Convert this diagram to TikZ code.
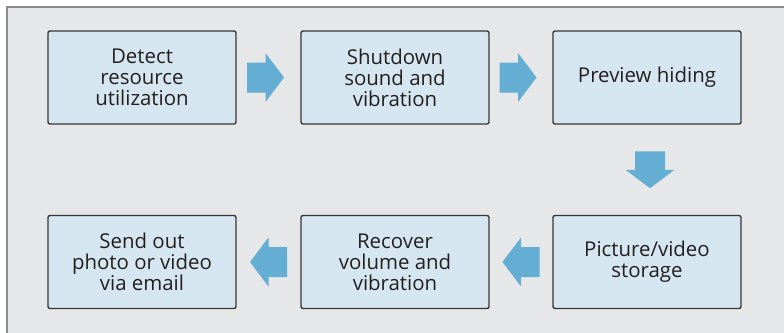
\documentclass[tikz,border=0pt]{standalone}
\usepackage{fontspec}
\setmainfont{Open Sans}
\usetikzlibrary{calc}
\definecolor{framebg}{HTML}{E6E7E8}
\definecolor{frameline}{HTML}{8C8C8C}
\definecolor{boxfill}{HTML}{D6E6F0}
\definecolor{boxline}{HTML}{363636}
\definecolor{arrowc}{HTML}{64AED3}
\definecolor{textc}{HTML}{231F20}
\tikzset{
  stepbox/.style={draw=boxline, line width=1.4bp, fill=boxfill, rounded corners=2bp,
    minimum width=188bp, minimum height=93bp, inner sep=0pt, align=center,
    text=textc, font=\fontsize{20.5}{21}\selectfont},
  pics/blockarrow/.style={code={
    \fill[arrowc] (-18.5bp,-15bp) -- (0bp,-15bp) -- (0bp,-24.5bp) -- (18.5bp,0bp)
      -- (0bp,24.5bp) -- (0bp,15bp) -- (-18.5bp,15bp) -- cycle;}}
}
\begin{document}
\begin{tikzpicture}[x=1bp,y=-1bp]
\useasboundingbox (0,0) rectangle (784,332);
\clip (0,0) rectangle (784,332);
\fill[framebg] (7,7) rectangle (800,350);
\draw[frameline, line width=2bp] (7,350) -- (7,7) -- (800,7);
\node[stepbox] (a) at (142,77.5) {Detect\\resource\\utilization};
\node[stepbox] (b) at (395,77.5) {Shutdown\\sound and\\vibration};
\node[stepbox] (c) at (647,77.5) {Preview hiding};
\node[stepbox] (f) at (142,262) {Send out\\photo or video\\via email};
\node[stepbox] (e) at (395,262) {Recover\\volume and\\vibration};
\node[stepbox] (d) at (647,262) {Picture/video\\storage};
\pic[xshift=-3bp] at ($(a.east)!0.5!(b.west)$) {blockarrow};
\pic[xshift=-3bp] at ($(b.east)!0.5!(c.west)$) {blockarrow};
\pic[rotate=-90, yshift=3bp] at ($(c.south)!0.5!(d.north)$) {blockarrow};
\pic[rotate=180] at ($(d.west)!0.5!(e.east)$) {blockarrow};
\pic[rotate=180] at ($(e.west)!0.5!(f.east)$) {blockarrow};
\end{tikzpicture}
\end{document}
